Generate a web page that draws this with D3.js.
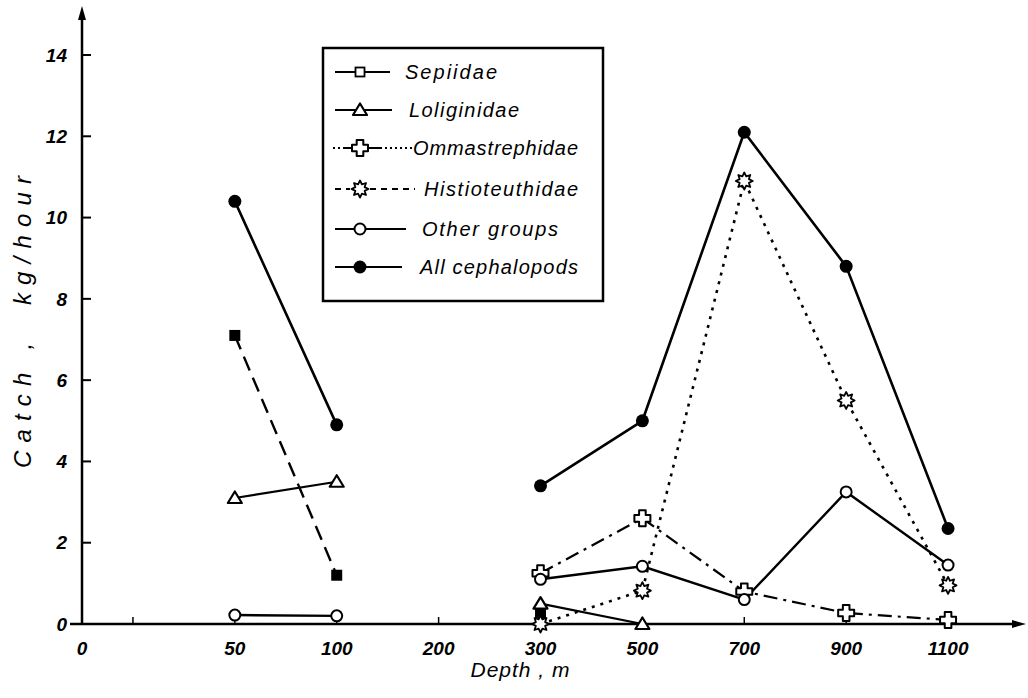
<!DOCTYPE html>
<html>
<head>
<meta charset="utf-8">
<script src="https://cdn.jsdelivr.net/npm/d3@7"></script>
<style>
  body { margin: 0; background: #fff; }
  #plot { font-family: "Liberation Sans", Arial, sans-serif; }
  .tick-label { font-size: 19px; font-weight: bold; font-style: italic; fill: #000; }
  .title { font-style: italic; fill: #000; }
  .leg-text { font-size: 20px; font-style: italic; fill: #000; }
</style>
</head>
<body>
<div id="plot"></div>
<script>
// depth classes (the first, unlabeled slot is the minor tick after the origin)
var depthSlots = ["", "50", "100", "200", "300", "500", "700", "900", "1100"];
var depths = ["50", "100", "200", "300", "500", "700", "900", "1100"];
var yTicks = [0, 2, 4, 6, 8, 10, 12, 14];

// catch, kg/hour, aligned with depths (null = no value)
var sepiidae        = [7.1, 1.2, null, 0.27, null, null, null, null];
var loliginidae     = [3.1, 3.5, null, 0.5, 0, null, null, null];
var ommastrephidae  = [null, null, null, 1.25, 2.6, 0.8, 0.27, 0.1];
var histioteuthidae = [null, null, null, 0, 0.82, 10.9, 5.5, 0.95];
var otherGroups     = [0.22, 0.2, null, 1.1, 1.42, 0.6, 3.25, 1.45];
var allCephalopods  = [10.4, 4.9, null, 3.4, 5.0, 12.1, 8.8, 2.35];

var width = 1028, height = 698;

var svg = d3.select("#plot").append("svg")
    .attr("width", width)
    .attr("height", height);

var x = d3.scalePoint().domain(depthSlots).range([82, 999]).padding(0.5);
var y = d3.scaleLinear().domain([0, 14]).range([624, 55]);

var x0 = 82, y0 = y(0);

// marker shapes
function starPath(ro, ri, n) {
    var pts = [];
    for (var i = 0; i < n * 2; i++) {
        var a = Math.PI * i / n - Math.PI / 2;
        var r = (i % 2 === 0) ? ro : ri;
        pts.push([r * Math.cos(a), r * Math.sin(a)]);
    }
    return "M" + pts.map(function(p) { return p[0].toFixed(2) + "," + p[1].toFixed(2); }).join("L") + "Z";
}
function crossPath(a, b) {
    return "M" + (-a) + "," + (-b) + "L" + (-a) + "," + (-a) + "L" + (-b) + "," + (-a) +
        "L" + (-b) + "," + a + "L" + (-a) + "," + a + "L" + (-a) + "," + b +
        "L" + a + "," + b + "L" + a + "," + a + "L" + b + "," + a +
        "L" + b + "," + (-a) + "L" + a + "," + (-a) + "L" + a + "," + (-b) + "Z";
}

var markers = {
    squareFilled: function(g) { g.append("rect").attr("x", -5.5).attr("y", -5.5).attr("width", 11).attr("height", 11).attr("fill", "#000"); },
    squareOpen: function(g) { g.append("rect").attr("x", -4.5).attr("y", -4.5).attr("width", 9).attr("height", 9).attr("fill", "#fff").attr("stroke", "#000").attr("stroke-width", 1.8); },
    triangle: function(g) { g.append("path").attr("d", "M0,-6.5L7,5L-7,5Z").attr("fill", "#fff").attr("stroke", "#000").attr("stroke-width", 2.2).attr("stroke-linejoin", "round"); },
    cross: function(g) { g.append("path").attr("d", crossPath(3.3, 8)).attr("fill", "#fff").attr("stroke", "#000").attr("stroke-width", 2).attr("stroke-linejoin", "round"); },
    star: function(g) { g.append("path").attr("d", starPath(8.5, 5, 8)).attr("fill", "#fff").attr("stroke", "#000").attr("stroke-width", 1.8).attr("stroke-linejoin", "round"); },
    circleOpen: function(g) { g.append("circle").attr("r", 5.5).attr("fill", "#fff").attr("stroke", "#000").attr("stroke-width", 2); },
    circleFilled: function(g) { g.append("circle").attr("r", 6.5).attr("fill", "#000"); }
};

var series = [
    {name: "Sepiidae", values: sepiidae, dash: "15,8", width: 2.4, marker: "squareFilled", legMarker: "squareOpen", legDash: null},
    {name: "Loliginidae", values: loliginidae, dash: null, width: 2.2, marker: "triangle", legMarker: "triangle", legDash: null},
    {name: "Ommastrephidae", values: ommastrephidae, dash: "14,6,3,6", width: 2.2, marker: "cross", legMarker: "cross", legDash: "2,3"},
    {name: "Histioteuthidae", values: histioteuthidae, dash: "3,6", width: 2.6, marker: "star", legMarker: "star", legDash: "6,5"},
    {name: "Other groups", values: otherGroups, dash: null, width: 2.4, marker: "circleOpen", legMarker: "circleOpen", legDash: null},
    {name: "All cephalopods", values: allCephalopods, dash: null, width: 2.6, marker: "circleFilled", legMarker: "circleFilled", legDash: null}
];

// axes
var axes = svg.append("g").attr("class", "axes");
axes.append("line").attr("x1", x0).attr("x2", x0).attr("y1", y0 + 1).attr("y2", 14)
    .attr("stroke", "#000").attr("stroke-width", 2.5);
axes.append("path").attr("d", "M" + x0 + ",6L" + (x0 - 4) + ",20L" + (x0 + 4) + ",20Z").attr("fill", "#000");
axes.append("line").attr("x1", 70).attr("x2", 1018).attr("y1", y0).attr("y2", y0)
    .attr("stroke", "#000").attr("stroke-width", 2.5);
axes.append("path").attr("d", "M1026," + y0 + "L1012," + (y0 - 4) + "L1012," + (y0 + 4) + "Z").attr("fill", "#000");

// y ticks
var yt = axes.selectAll(".ytick").data(yTicks).enter().append("g")
    .attr("transform", function(d) { return "translate(0," + y(d) + ")"; });
yt.filter(function(d) { return d > 0; }).append("line")
    .attr("x1", x0).attr("x2", x0 + 9).attr("stroke", "#000").attr("stroke-width", 2);
yt.append("text").attr("class", "tick-label")
    .attr("x", 67).attr("dy", "0.35em").attr("text-anchor", "end")
    .text(function(d) { return d; });

// x ticks
var xt = axes.selectAll(".xtick").data(depthSlots).enter().append("g")
    .attr("transform", function(d) { return "translate(" + x(d) + "," + y0 + ")"; });
xt.append("line").attr("y1", 0).attr("y2", -7).attr("stroke", "#000").attr("stroke-width", 1.5);
xt.append("text").attr("class", "tick-label")
    .attr("y", 31).attr("text-anchor", "middle")
    .text(function(d) { return d; });
axes.append("text").attr("class", "tick-label").attr("x", x0).attr("y", y0 + 31)
    .attr("text-anchor", "middle").text("0");

// axis titles
svg.append("text").attr("class", "title")
    .attr("transform", "translate(31,322) rotate(-90)")
    .attr("text-anchor", "middle")
    .style("font-size", "24px")
    .attr("textLength", 292).attr("lengthAdjust", "spacing")
    .style("white-space", "pre")
    .text("Catch ,  kg/hour");
svg.append("text").attr("class", "title")
    .attr("x", 520).attr("y", 677).attr("text-anchor", "middle")
    .style("font-size", "21px")
    .attr("textLength", 99).attr("lengthAdjust", "spacing")
    .style("white-space", "pre")
    .text("Depth , m");

// lines
var line = d3.line()
    .defined(function(d) { return d.v !== null; })
    .x(function(d) { return x(d.k); })
    .y(function(d) { return y(d.v); });

function pairs(values) {
    return depths.map(function(k, i) { return {k: k, v: values[i]}; });
}

var plotArea = svg.append("g");
series.forEach(function(s) {
    plotArea.append("path")
        .datum(pairs(s.values))
        .attr("d", line)
        .attr("fill", "none")
        .attr("stroke", "#000")
        .attr("stroke-width", s.width)
        .attr("stroke-dasharray", s.dash);
});
series.forEach(function(s) {
    pairs(s.values).filter(function(d) { return d.v !== null; }).forEach(function(d) {
        var g = plotArea.append("g").attr("transform", "translate(" + x(d.k) + "," + y(d.v) + ")");
        markers[s.marker](g);
    });
});

// legend
var legend = svg.append("g");
legend.append("rect").attr("x", 323).attr("y", 48).attr("width", 280).attr("height", 253)
    .attr("fill", "#fff").attr("stroke", "#000").attr("stroke-width", 2.5);
var legRows = [72, 110, 148, 189, 229, 267];
// [line start, line end, text start, text width]
var legSpan = [[335, 390, 405, 92], [335, 392, 409, 110], [333, 413, 413, 165],
               [335, 415, 424, 154], [335, 406, 422, 136], [335, 402, 420, 158]];
series.forEach(function(s, i) {
    var ly = legRows[i], sp = legSpan[i];
    var cx = 360;
    if (s.legDash) {
        legend.append("line").attr("x1", sp[0]).attr("x2", cx - 10).attr("y1", ly).attr("y2", ly)
            .attr("stroke", "#000").attr("stroke-width", 1.8).attr("stroke-dasharray", s.legDash);
        legend.append("line").attr("x1", cx + 10).attr("x2", sp[1]).attr("y1", ly).attr("y2", ly)
            .attr("stroke", "#000").attr("stroke-width", 1.8).attr("stroke-dasharray", s.legDash);
        if (s.name === "Ommastrephidae") {
            legend.append("line").attr("x1", cx - 16).attr("x2", cx - 8).attr("y1", ly).attr("y2", ly)
                .attr("stroke", "#000").attr("stroke-width", 2);
            legend.append("line").attr("x1", cx + 8).attr("x2", cx + 22).attr("y1", ly).attr("y2", ly)
                .attr("stroke", "#000").attr("stroke-width", 2);
        }
    } else {
        legend.append("line").attr("x1", sp[0]).attr("x2", sp[1]).attr("y1", ly).attr("y2", ly)
            .attr("stroke", "#000").attr("stroke-width", 2);
    }
    var g = legend.append("g").attr("transform", "translate(" + cx + "," + ly + ")");
    markers[s.legMarker](g);
    legend.append("text").attr("class", "leg-text")
        .attr("x", sp[2]).attr("y", ly).attr("dy", "0.35em")
        .attr("textLength", sp[3]).attr("lengthAdjust", "spacing")
        .text(s.name);
});
</script>
</body>
</html>
